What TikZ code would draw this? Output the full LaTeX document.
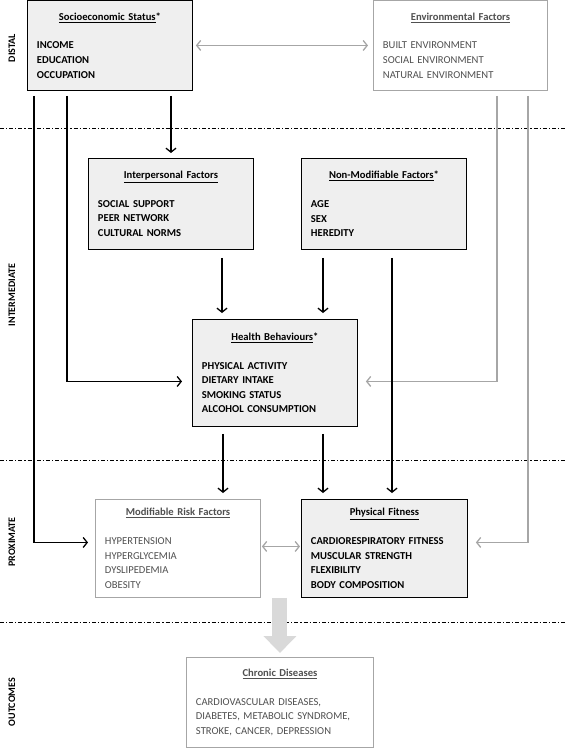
\documentclass[tikz,border=0pt]{standalone}
\usepackage{fontspec}
\setmainfont{Carlito}
\usetikzlibrary{arrows.meta}

\definecolor{boxfill}{HTML}{EFEFEF}
\definecolor{lightline}{HTML}{A6A6A6}
\definecolor{greytext}{HTML}{505050}
\definecolor{fatfill}{HTML}{D9D9D9}

\newcommand{\boxhead}[2][]{\makebox[\hsize][c]{\textbf{\underline{#2}#1}}\\[14pt]}

\tikzset{
  >={Straight Barb[length=4pt,width=10pt]},
  factor/.style={draw=black, line width=0.9pt, fill=boxfill, anchor=north west,
    inner xsep=9.5pt, inner ysep=0pt, align=left,
    font=\fontsize{10.6}{14.6}\selectfont\bfseries},
  faded/.style={factor, draw=lightline, fill=white, text=greytext,
    font=\fontsize{10.6}{14.6}\selectfont},
  link/.style={line width=1.3pt, ->},
  glink/.style={link, draw=lightline},
  level/.style={line width=0.8pt, dash pattern=on 4pt off 2pt on 1.2pt off 2pt},
  tier/.style={rotate=90, font=\fontsize{10}{10}\selectfont\bfseries},
  fatarrow/.style={draw=fatfill, line width=15pt, -{Triangle[length=17pt,width=32pt]}, shorten >=4pt}
}

\begin{document}
\begin{tikzpicture}[x=1pt,y=-1pt]
\useasboundingbox (0,0) rectangle (567,748);

% levels
\draw[level] (0,128) -- (567,128);
\draw[level] (0,460) -- (567,460);
\draw[level] (0,622) -- (567,622);

\node[tier] (distal) at (12,48) {DISTAL};
\node[tier] (intermediate) at (12,295) {INTERMEDIATE};
\node[tier] (proximate) at (12,542) {PROXIMATE};
\node[tier] (outcomes) at (12,702) {OUTCOMES};

% boxes
\node[factor, text width=146pt, minimum height=90pt] (ses) at (27,0)
  {\boxhead[*]{Socioeconomic Status}INCOME\\EDUCATION\\OCCUPATION};
\node[faded, text width=155pt, minimum height=90pt] (env) at (373,0)
  {\boxhead{Environmental Factors}BUILT ENVIRONMENT\\SOCIAL ENVIRONMENT\\NATURAL ENVIRONMENT};
\node[factor, text width=146pt, minimum height=91pt] (inter) at (88,158)
  {\boxhead{Interpersonal Factors}SOCIAL SUPPORT\\PEER NETWORK\\CULTURAL NORMS};
\node[factor, text width=146pt, minimum height=91pt] (nonmod) at (301,158)
  {\boxhead[*]{Non-Modifiable Factors}AGE\\SEX\\HEREDITY};
\node[factor, text width=146pt, minimum height=107pt] (health) at (192,319)
  {\boxhead[*]{Health Behaviours}PHYSICAL ACTIVITY\\DIETARY INTAKE\\SMOKING STATUS\\ALCOHOL CONSUMPTION};
\node[faded, text width=146pt, minimum height=98pt] (modif) at (95,499)
  {\boxhead{Modifiable Risk Factors}HYPERTENSION\\HYPERGLYCEMIA\\DYSLIPEDEMIA\\OBESITY};
\node[factor, text width=147pt, minimum height=98pt] (fit) at (301,499)
  {\boxhead{Physical Fitness}CARDIORESPIRATORY FITNESS\\MUSCULAR STRENGTH\\FLEXIBILITY\\BODY COMPOSITION};
\node[faded, text width=168pt, minimum height=90pt] (chronic) at (186,657)
  {\boxhead{Chronic Diseases}CARDIOVASCULAR DISEASES,\\DIABETES, METABOLIC SYNDROME,\\STROKE, CANCER, DEPRESSION};

% connectors
\draw[glink, <->, shorten <=3pt, shorten >=5pt] (ses.east) -- (env.west);
\draw[link, shorten <=5pt, shorten >=5pt] (ses.south -| inter.north) -- (inter.north);
\draw[link, shorten <=5pt, shorten >=7pt] ([xshift=7pt]ses.south west) |- ([yshift=6pt]modif.west);
\draw[link, shorten <=5pt, shorten >=10pt] ([xshift=40pt]ses.south west) |- ([yshift=-8.5pt]health.west);
\draw[glink, shorten <=5pt, shorten >=8pt] ([xshift=124pt]env.south west) |- ([yshift=-8.5pt]health.east);
\draw[glink, shorten <=5pt, shorten >=8pt] ([xshift=155pt]env.south west) |- ([yshift=6pt]fit.east);

\draw[link, shorten <=8pt, shorten >=6pt] ([xshift=134pt]inter.south west) -- ([xshift=134pt]inter.south west |- health.north);
\draw[link, shorten <=8pt, shorten >=6pt] ([xshift=22pt]nonmod.south west) -- ([xshift=22pt]nonmod.south west |- health.north);
\draw[link, shorten <=8pt, shorten >=6pt] ([xshift=91pt]nonmod.south west) -- ([xshift=91pt]nonmod.south west |- fit.north);
\draw[link, shorten <=7pt, shorten >=6pt] ([xshift=31pt]health.south west) -- ([xshift=31pt]health.south west |- modif.north);
\draw[link, shorten <=7pt, shorten >=6pt] ([xshift=131pt]health.south west) -- ([xshift=131pt]health.south west |- fit.north);
\draw[glink, <->, shorten <=1pt, shorten >=1pt] ([yshift=2pt]modif.east) -- ([yshift=2pt]modif.east -| fit.west);

\draw[fatarrow] (chronic.north |- modif.south) -- (chronic.north);

\end{tikzpicture}
\end{document}
